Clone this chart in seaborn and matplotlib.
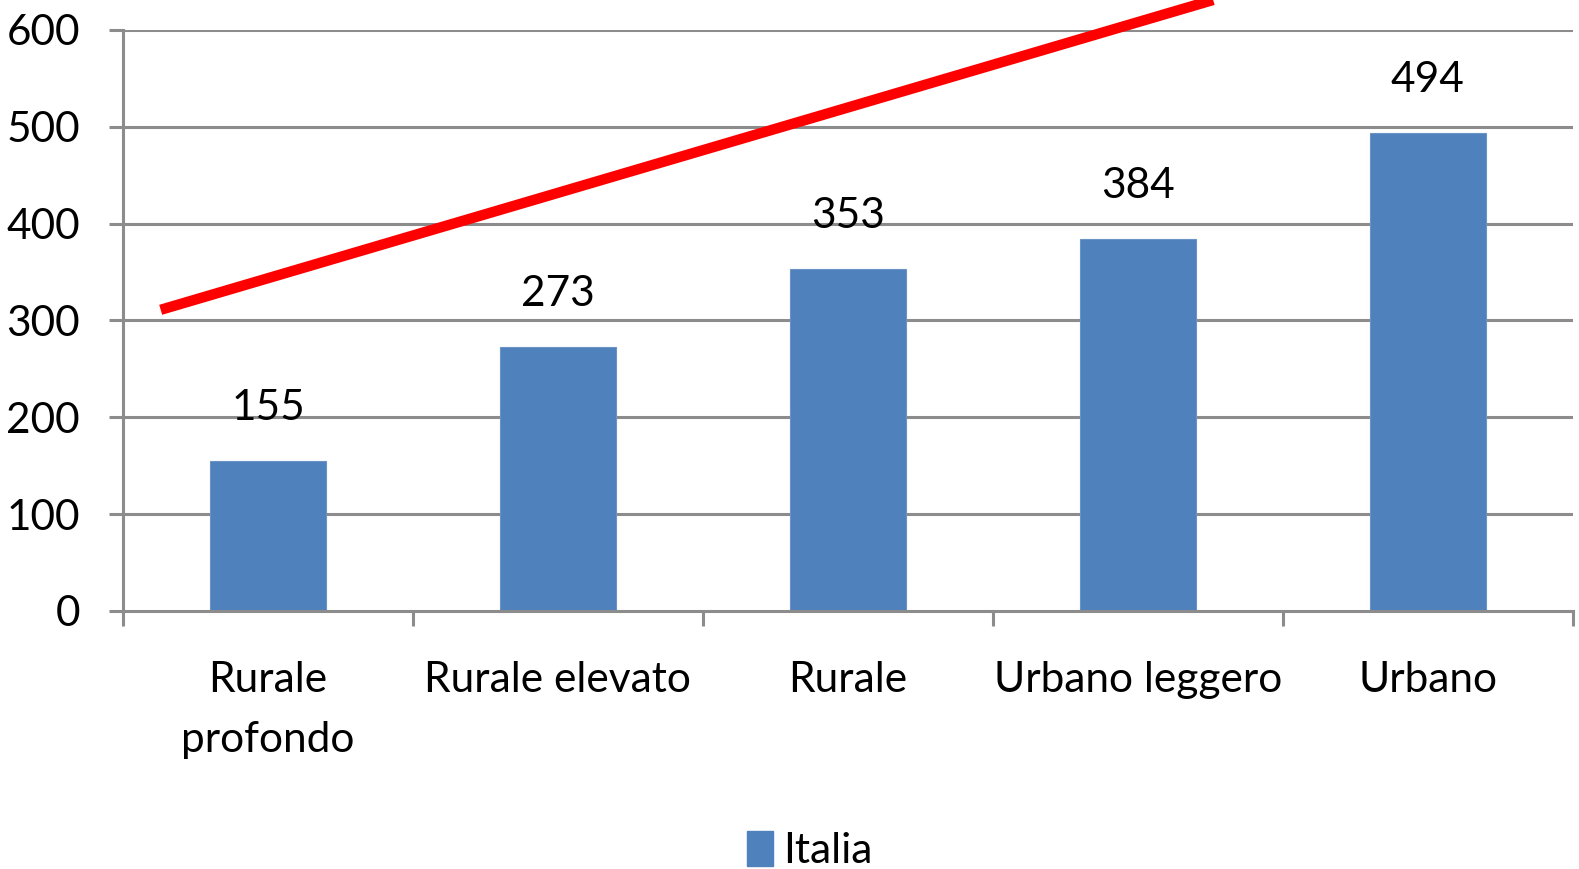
import matplotlib
matplotlib.use("Agg")
import matplotlib.pyplot as plt
import seaborn as sns
import pandas as pd
from matplotlib.patches import Patch

categories = ["Rurale\nprofondo", "Rurale elevato", "Rurale", "Urbano leggero", "Urbano"]
values = [155, 273, 353, 384, 494]
series_name = "Italia"
y_ticks = [0, 100, 200, 300, 400, 500, 600]
# red indicative line: positions in category units, values in data units
line_x = [-0.37, 3.26]
line_y = [311, 631]

sns.set_theme(style="white")
plt.rcParams['font.family'] = ['Lato', 'DejaVu Sans']
plt.rcParams['text.color'] = 'black'
plt.rcParams['xtick.labelcolor'] = 'black'
plt.rcParams['ytick.labelcolor'] = 'black'

df = pd.DataFrame({"cat": categories, "val": values})

fig = plt.figure(figsize=(15.79, 8.69), dpi=100)
ax = fig.add_axes([0.0779, 0.297, 0.9181, 0.6685])

grid_c = "#8c8c8c"
sns.barplot(data=df, x="cat", y="val", color="#4F81BD", saturation=1, width=0.4,
            ax=ax, zorder=3, edgecolor="#6b93c6", linewidth=0.8)

ax.set_ylim(0, 600)
ax.set_xlim(-0.5, 4.5)
ax.set_yticks(y_ticks)
ax.set_yticklabels([str(t) for t in y_ticks])
ax.set_xlabel("")
ax.set_ylabel("")

for v in y_ticks[1:]:
    ax.axhline(v, color=grid_c, lw=2.2, zorder=1)

for s in ["top", "right"]:
    ax.spines[s].set_visible(False)
for s in ["left", "bottom"]:
    ax.spines[s].set_color(grid_c)
    ax.spines[s].set_linewidth(2.2)
    ax.spines[s].set_zorder(4)

ax.tick_params(axis="y", length=10, width=2.2, color=grid_c, pad=21, labelsize=30.5,
               left=True, labelcolor="black")
ax.tick_params(axis="x", which="major", length=0, pad=36, labelsize=30.5, labelcolor="black")
ax.set_xticks([i - 0.5 for i in range(6)], minor=True)
ax.tick_params(axis="x", which="minor", length=11, width=2.2, color=grid_c, bottom=True)
for lab in ax.get_xticklabels():
    lab.set_linespacing(1.72)

for i, v in enumerate(values):
    ax.annotate(str(v), (i, v), xytext=(0, 38), textcoords="offset points",
                ha="center", va="center", fontsize=30.5, color="black")

ax.plot(line_x, line_y, color="#FF0000", lw=7.5, clip_on=False, zorder=5,
        solid_capstyle="butt")

handles = [Patch(facecolor="#4F81BD", edgecolor="#4F81BD")]
fig.legend(handles, [series_name], loc="lower center", bbox_to_anchor=(0.513, -0.045),
           frameon=False, fontsize=30.5, handlelength=0.6, handleheight=0.9,
           handletextpad=0.25, labelcolor="black")

fig.savefig("out.png", dpi=100)
